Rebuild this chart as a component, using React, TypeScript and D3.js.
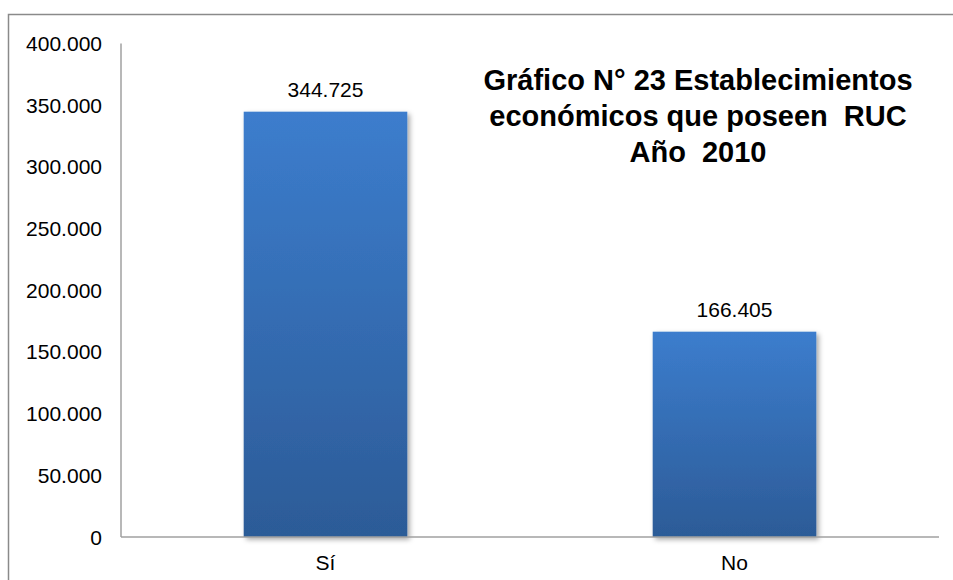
import React from "react";
import * as d3 from "d3";

const categories = ["Sí", "No"];
const values = [344725, 166405];
const yTicks = [0, 50000, 100000, 150000, 200000, 250000, 300000, 350000, 400000];
const titleLines = ["Gráfico N° 23 Establecimientos", "económicos que poseen  RUC", "Año  2010"];

const W = 953;
const H = 580;
const FONT = "'Liberation Sans', Arial, sans-serif";

const fmt = (v: number) => {
  if (v === 0) return "0";
  const s = d3.format(",")(v);
  return s.replace(/,/g, ".");
};

export default function App() {
  const left = 121;
  const right = 939;
  const top = 43.5;
  const bottom = 537;
  const x = d3.scaleBand<string>().domain(categories).range([left, right]).paddingInner(0.6).paddingOuter(0.3);
  const y = d3.scaleLinear().domain([0, 400000]).range([bottom, top]);

  return (
    <div style={{ position: "absolute", left: 0, top: 0 }}>
      <svg width={W} height={H} style={{ display: "block" }}>
        <defs>
          <linearGradient id="barGrad" x1="0" y1="0" x2="0" y2="1">
            <stop offset="0" stopColor="#3c7dcd" />
            <stop offset="1" stopColor="#2c5b97" />
          </linearGradient>
          <filter id="shadow" x="-20%" y="-20%" width="140%" height="140%">
            <feDropShadow dx="2.5" dy="2.5" stdDeviation="2.5" floodColor="#000" floodOpacity="0.35" />
          </filter>
        </defs>
        <rect x={0} y={0} width={W} height={H} fill="#fff" />
        <rect x={8.5} y={14.5} width={970} height={620} fill="#fff" stroke="#8a8a8a" strokeWidth={1.5} />

        {yTicks.map((t) => (
          <text key={t} x={102} y={y(t)} dy="0.36em" textAnchor="end" fontFamily={FONT} fontSize={21} fill="#000">
            {fmt(t)}
          </text>
        ))}

        {categories.map((c, i) => (
          <rect
            key={c}
            x={x(c)!}
            y={y(values[i])}
            width={x.bandwidth()}
            height={bottom - y(values[i])}
            fill="url(#barGrad)"
            filter="url(#shadow)"
          />
        ))}

        <line x1={left} x2={left} y1={top} y2={bottom} stroke="#a0a0a0" strokeWidth={1.5} />
        <line x1={left} x2={right} y1={bottom} y2={bottom} stroke="#a0a0a0" strokeWidth={1.5} />

        {categories.map((c, i) => (
          <text key={c} x={x(c)! + x.bandwidth() / 2} y={y(values[i]) - 15} textAnchor="middle" fontFamily={FONT} fontSize={21} fill="#000">
            {fmt(values[i])}
          </text>
        ))}

        {categories.map((c) => (
          <text key={c} x={x(c)! + x.bandwidth() / 2} y={570} textAnchor="middle" fontFamily={FONT} fontSize={21} fill="#000">
            {c}
          </text>
        ))}

        {titleLines.map((l, i) => (
          <text
            key={i}
            x={698}
            y={90 + i * 36}
            textAnchor="middle"
            fontFamily={FONT}
            fontSize={29}
            fontWeight="bold"
            fill="#000"
            style={{ whiteSpace: "pre" }}
          >
            {l}
          </text>
        ))}
      </svg>
    </div>
  );
}
